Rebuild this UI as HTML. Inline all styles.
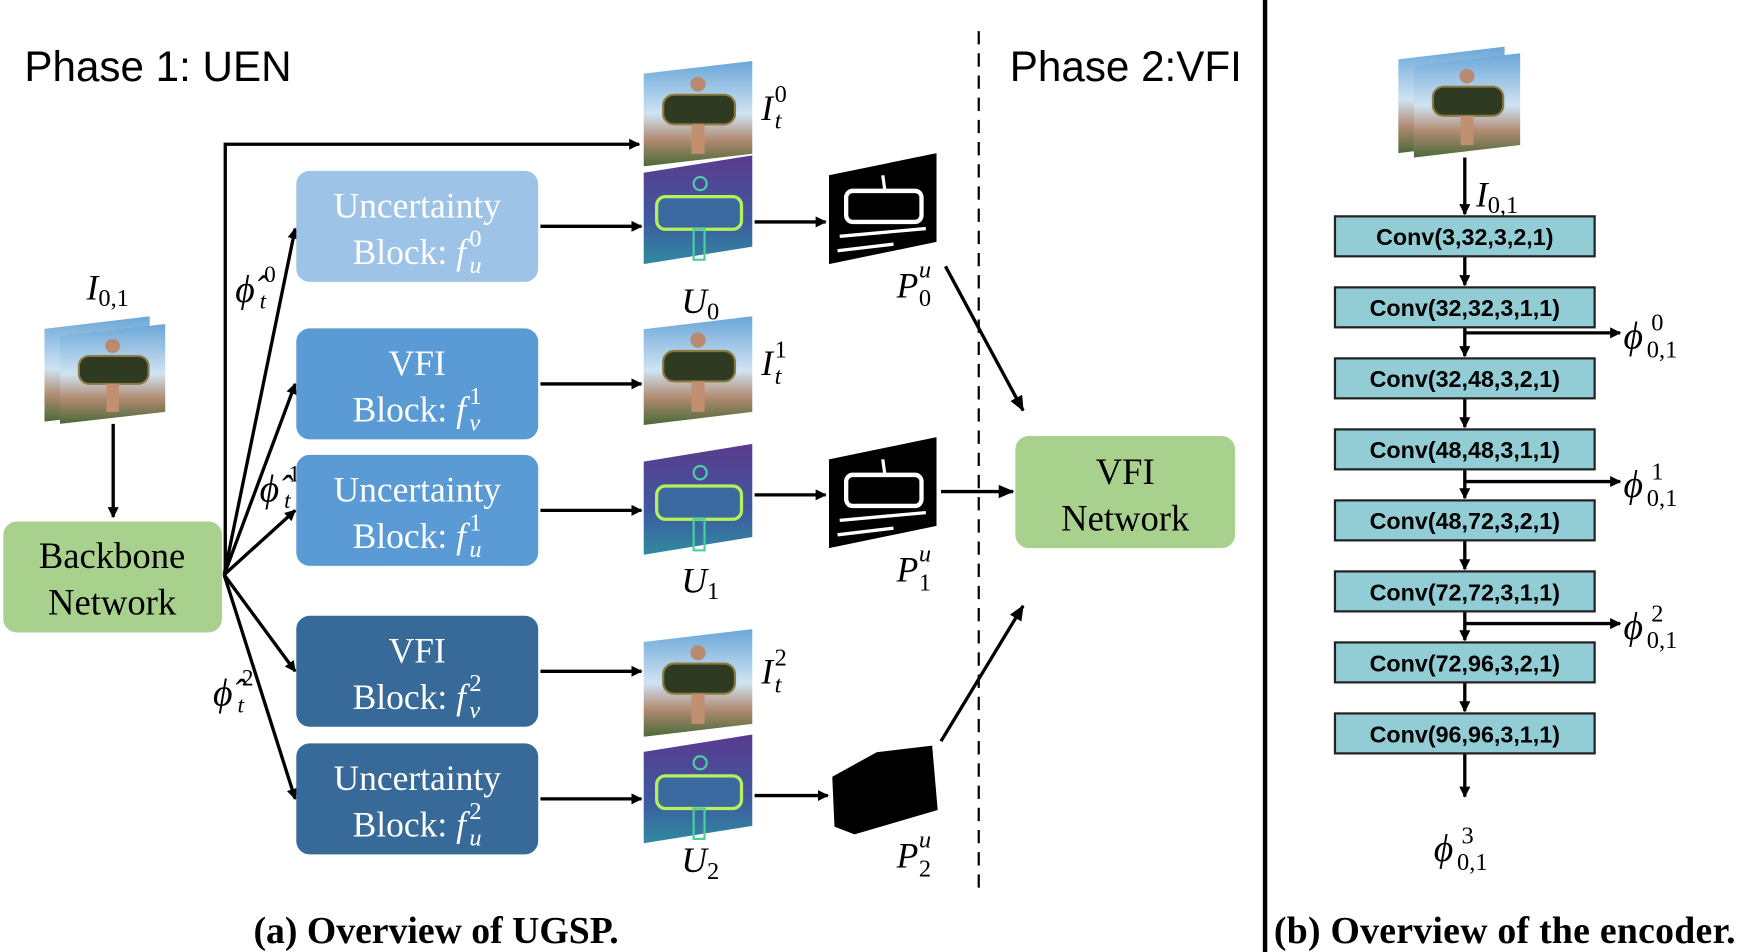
<!DOCTYPE html>
<html><head><meta charset="utf-8"><style>
html,body{margin:0;padding:0;background:#fff;}
svg{display:block;}
.s{font-family:"Liberation Serif",serif;}
.sa{font-family:"Liberation Sans",sans-serif;}
</style></head><body>
<svg width="1740" height="952" viewBox="0 0 1568 858" preserveAspectRatio="none" xmlns="http://www.w3.org/2000/svg">
<defs>
<marker id="ar" markerWidth="10" markerHeight="10" refX="9" refY="5" orient="auto" markerUnits="userSpaceOnUse"><path d="M0,0 L10,5 L0,10 z" fill="#000"/></marker>
<marker id="ar2" markerWidth="14" markerHeight="12" refX="13" refY="6" orient="auto" markerUnits="userSpaceOnUse"><path d="M0,0 L14,6 L0,12 z" fill="#000"/></marker>
<linearGradient id="sky" x1="0" y1="0" x2="0" y2="1"><stop offset="0" stop-color="#6aa6d8"/><stop offset="0.5" stop-color="#cfe3f2"/><stop offset="0.75" stop-color="#b08a70"/><stop offset="1" stop-color="#4a6a3a"/></linearGradient>
<linearGradient id="heat" x1="0" y1="0" x2="0" y2="1"><stop offset="0" stop-color="#5a3a8e"/><stop offset="0.6" stop-color="#3e5aa0"/><stop offset="1" stop-color="#2f8aa0"/></linearGradient>
<symbol id="photo" viewBox="0 0 100 100" preserveAspectRatio="none">
<polygon points="0,12 100,0 100,88 0,100" fill="url(#sky)"/>
<rect x="18" y="32" width="66" height="28" rx="10" fill="#2e3a22" stroke="#8a7a40" stroke-width="2"/>
<circle cx="50" cy="22" r="7" fill="#b88a70"/>
<rect x="44" y="60" width="12" height="28" fill="#c09070"/>
</symbol>
<symbol id="heatm" viewBox="0 0 100 100" preserveAspectRatio="none">
<polygon points="0,16 100,0 100,84 0,100" fill="url(#heat)"/>
<rect x="12" y="38" width="78" height="30" rx="8" fill="#3a6aa0" stroke="#b8f05a" stroke-width="3"/>
<circle cx="52" cy="26" r="6" fill="none" stroke="#4ad0a0" stroke-width="2"/>
<rect x="46" y="68" width="10" height="28" fill="none" stroke="#4ad0a0" stroke-width="2"/>
</symbol>
<symbol id="bin" viewBox="0 0 100 100" preserveAspectRatio="none">
<polygon points="0,20 100,0 100,80 0,100" fill="#000"/>
<rect x="16" y="34" width="70" height="28" rx="6" fill="none" stroke="#fff" stroke-width="4"/>
<path d="M10,75 L90,68 M8,88 L60,82 M50,20 L52,34" stroke="#fff" stroke-width="3"/>
</symbol>
</defs>

<text x="22" y="73" class="sa" font-size="38">Phase 1: UEN</text>
<text x="910" y="73" class="sa" font-size="38">Phase 2:VFI</text>
<line x1="882" y1="28" x2="882" y2="800" stroke="#000" stroke-width="2" stroke-dasharray="12,8"/>
<line x1="1140" y1="0" x2="1140" y2="858" stroke="#000" stroke-width="4"/>

<text x="78" y="270" class="s" font-size="32" font-style="italic">I<tspan font-size="22" font-style="normal" dy="6">0,1</tspan></text>
<use href="#photo" x="40" y="285" width="95" height="95"/>
<use href="#photo" x="54" y="292" width="95" height="90"/>
<line x1="102" y1="382" x2="102" y2="466" stroke="#000" stroke-width="3" marker-end="url(#ar)"/>
<rect x="3" y="470" width="197" height="100" rx="12" fill="#a9d18e"/>
<text x="101" y="512" class="s" font-size="33" text-anchor="middle">Backbone</text>
<text x="101" y="554" class="s" font-size="33" text-anchor="middle">Network</text>

<g stroke="#000" stroke-width="3" fill="none">
<polyline points="203,518 203,130 576,130" marker-end="url(#ar)"/>
<line x1="202" y1="518" x2="266" y2="206" marker-end="url(#ar)"/>
<line x1="202" y1="518" x2="266" y2="346" marker-end="url(#ar)"/>
<line x1="202" y1="518" x2="266" y2="460" marker-end="url(#ar)"/>
<line x1="202" y1="518" x2="266" y2="605" marker-end="url(#ar)"/>
<line x1="202" y1="518" x2="266" y2="720" marker-end="url(#ar)"/>
</g>
<g class="s" font-style="italic">
<text x="212" y="272" font-size="34">ϕ̂</text><text x="234" y="278" font-size="21">t</text><text x="238" y="254" font-size="21" font-style="normal">0</text>
<text x="234" y="452" font-size="34">ϕ̂</text><text x="256" y="458" font-size="21">t</text><text x="260" y="434" font-size="21" font-style="normal">1</text>
<text x="192" y="636" font-size="34">ϕ̂</text><text x="214" y="642" font-size="21">t</text><text x="218" y="618" font-size="21" font-style="normal">2</text>
</g>

<g class="s" font-size="32" fill="#fff">
<rect x="267" y="154" width="218" height="100" rx="12" fill="#9dc3e6"/>
<rect x="267" y="296" width="218" height="100" rx="12" fill="#5b9bd5"/>
<rect x="267" y="410" width="218" height="100" rx="12" fill="#5b9bd5"/>
<rect x="267" y="555" width="218" height="100" rx="12" fill="#376a98"/>
<rect x="267" y="670" width="218" height="100" rx="12" fill="#376a98"/>
<g text-anchor="middle">
<text x="376" y="196">Uncertainty</text>
<text x="376" y="338">VFI</text>
<text x="376" y="452">Uncertainty</text>
<text x="376" y="597">VFI</text>
<text x="376" y="712">Uncertainty</text>
</g>
<g text-anchor="end">
<text x="420" y="238">Block: <tspan font-style="italic">f</tspan></text>
<text x="420" y="380">Block: <tspan font-style="italic">f</tspan></text>
<text x="420" y="494">Block: <tspan font-style="italic">f</tspan></text>
<text x="420" y="639">Block: <tspan font-style="italic">f</tspan></text>
<text x="420" y="754">Block: <tspan font-style="italic">f</tspan></text>
</g>
<g font-size="22">
<text x="423" y="246" font-style="italic">u</text><text x="423" y="222">0</text>
<text x="423" y="388" font-style="italic">v</text><text x="423" y="364">1</text>
<text x="423" y="502" font-style="italic">u</text><text x="423" y="478">1</text>
<text x="423" y="647" font-style="italic">v</text><text x="423" y="623">2</text>
<text x="423" y="762" font-style="italic">u</text><text x="423" y="738">2</text>
</g>
</g>

<g stroke="#000" stroke-width="3" marker-end="url(#ar)">
<line x1="487" y1="204" x2="578" y2="204"/>
<line x1="487" y1="346" x2="578" y2="346"/>
<line x1="487" y1="460" x2="578" y2="460"/>
<line x1="487" y1="605" x2="578" y2="605"/>
<line x1="487" y1="720" x2="578" y2="720"/>
<line x1="680" y1="200" x2="744" y2="200"/>
<line x1="680" y1="446" x2="744" y2="446"/>
<line x1="680" y1="717" x2="746" y2="717"/>
</g>

<use href="#photo" x="580" y="55" width="98" height="95"/>
<use href="#heatm" x="580" y="140" width="98" height="98"/>
<use href="#photo" x="580" y="285" width="98" height="98"/>
<use href="#heatm" x="580" y="400" width="98" height="100"/>
<use href="#photo" x="580" y="567" width="98" height="97"/>
<use href="#heatm" x="580" y="662" width="98" height="98"/>
<use href="#bin" x="747" y="138" width="97" height="100"/>
<use href="#bin" x="747" y="394" width="97" height="100"/>
<polygon points="750,700 790,678 840,672 845,730 770,752 752,745" fill="#000"/>

<g class="s" font-style="italic">
<text x="686" y="108" font-size="32">I</text><text x="698" y="116" font-size="22">t</text><text x="698" y="92" font-size="22" font-style="normal">0</text>
<text x="686" y="338" font-size="32">I</text><text x="698" y="346" font-size="22">t</text><text x="698" y="322" font-size="22" font-style="normal">1</text>
<text x="686" y="616" font-size="32">I</text><text x="698" y="624" font-size="22">t</text><text x="698" y="600" font-size="22" font-style="normal">2</text>
<text x="614" y="282" font-size="32">U<tspan font-size="22" font-style="normal" dy="6">0</tspan></text>
<text x="614" y="534" font-size="32">U<tspan font-size="22" font-style="normal" dy="6">1</tspan></text>
<text x="614" y="786" font-size="32">U<tspan font-size="22" font-style="normal" dy="6">2</tspan></text>
<text x="808" y="268" font-size="32">P</text><text x="828" y="276" font-size="22" font-style="normal">0</text><text x="828" y="250" font-size="22">u</text>
<text x="808" y="524" font-size="32">P</text><text x="828" y="532" font-size="22" font-style="normal">1</text><text x="828" y="506" font-size="22">u</text>
<text x="808" y="782" font-size="32">P</text><text x="828" y="790" font-size="22" font-style="normal">2</text><text x="828" y="764" font-size="22">u</text>
</g>

<g stroke="#000" stroke-width="3" marker-end="url(#ar2)">
<line x1="852" y1="240" x2="922" y2="370"/>
<line x1="848" y1="443" x2="913" y2="443"/>
<line x1="848" y1="668" x2="922" y2="546"/>
</g>
<rect x="915" y="393" width="198" height="101" rx="12" fill="#a9d18e"/>
<text x="1014" y="436" class="s" font-size="33" text-anchor="middle">VFI</text>
<text x="1014" y="478" class="s" font-size="33" text-anchor="middle">Network</text>

<text x="393" y="850" class="s" font-size="34" font-weight="bold" text-anchor="middle">(a) Overview of UGSP.</text>
<text x="1148" y="850" class="s" font-size="34" font-weight="bold" textLength="416">(b) Overview of the encoder.</text>

<use href="#photo" x="1260" y="42" width="96" height="96"/>
<use href="#photo" x="1274" y="48" width="96" height="94"/>
<g stroke="#000" stroke-width="3" marker-end="url(#ar)">
<line x1="1320" y1="142" x2="1320" y2="193"/>
<line x1="1320" y1="231" x2="1320" y2="257"/>
<line x1="1320" y1="295" x2="1320" y2="321"/>
<line x1="1320" y1="359" x2="1320" y2="385"/>
<line x1="1320" y1="423" x2="1320" y2="449"/>
<line x1="1320" y1="487" x2="1320" y2="513"/>
<line x1="1320" y1="551" x2="1320" y2="577"/>
<line x1="1320" y1="615" x2="1320" y2="641"/>
<line x1="1320" y1="679" x2="1320" y2="718"/>
<polyline points="1320,300 1460,300" fill="none"/>
<polyline points="1320,434 1460,434" fill="none"/>
<polyline points="1320,562 1460,562" fill="none"/>
</g>
<text x="1330" y="186" class="s" font-size="32" font-style="italic">I<tspan font-size="22" font-style="normal" dy="6">0,1</tspan></text>
<g class="sa" font-size="21" font-weight="bold" text-anchor="middle">
<rect x="1203" y="195" width="234" height="36" fill="#92cdd6" stroke="#222" stroke-width="2"/><text x="1320" y="221">Conv(3,32,3,2,1)</text>
<rect x="1203" y="259" width="234" height="36" fill="#92cdd6" stroke="#222" stroke-width="2"/><text x="1320" y="285">Conv(32,32,3,1,1)</text>
<rect x="1203" y="323" width="234" height="36" fill="#92cdd6" stroke="#222" stroke-width="2"/><text x="1320" y="349">Conv(32,48,3,2,1)</text>
<rect x="1203" y="387" width="234" height="36" fill="#92cdd6" stroke="#222" stroke-width="2"/><text x="1320" y="413">Conv(48,48,3,1,1)</text>
<rect x="1203" y="451" width="234" height="36" fill="#92cdd6" stroke="#222" stroke-width="2"/><text x="1320" y="477">Conv(48,72,3,2,1)</text>
<rect x="1203" y="515" width="234" height="36" fill="#92cdd6" stroke="#222" stroke-width="2"/><text x="1320" y="541">Conv(72,72,3,1,1)</text>
<rect x="1203" y="579" width="234" height="36" fill="#92cdd6" stroke="#222" stroke-width="2"/><text x="1320" y="605">Conv(72,96,3,2,1)</text>
<rect x="1203" y="643" width="234" height="36" fill="#92cdd6" stroke="#222" stroke-width="2"/><text x="1320" y="669">Conv(96,96,3,1,1)</text>
</g>
<g class="s" font-style="italic">
<text x="1463" y="314" font-size="34">ϕ</text><text x="1484" y="322" font-size="22" font-style="normal">0,1</text><text x="1488" y="298" font-size="22" font-style="normal">0</text>
<text x="1463" y="448" font-size="34">ϕ</text><text x="1484" y="456" font-size="22" font-style="normal">0,1</text><text x="1488" y="432" font-size="22" font-style="normal">1</text>
<text x="1463" y="576" font-size="34">ϕ</text><text x="1484" y="584" font-size="22" font-style="normal">0,1</text><text x="1488" y="560" font-size="22" font-style="normal">2</text>
<text x="1292" y="776" font-size="34">ϕ</text><text x="1313" y="784" font-size="22" font-style="normal">0,1</text><text x="1317" y="760" font-size="22" font-style="normal">3</text>
</g>
</svg>
</body></html>
